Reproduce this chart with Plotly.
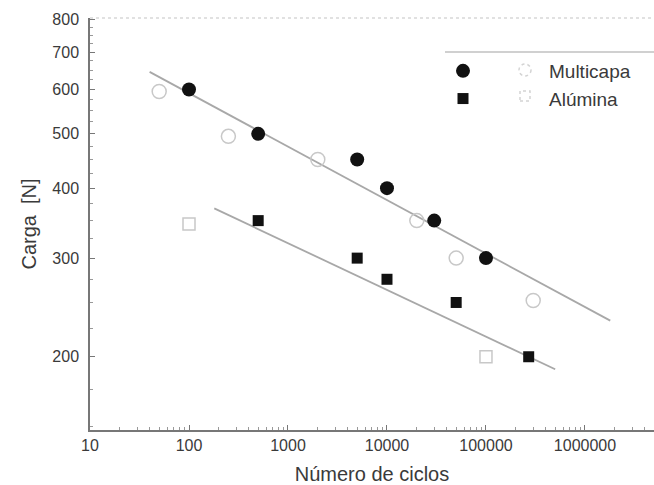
import plotly.graph_objects as go
import math

# Multicapa (filled / open)
multi_x = [100, 500, 5000, 10000, 30000, 100000]
multi_y = [600, 500, 450, 400, 350, 300]
multi_open_x = [50, 250, 2000, 20000, 50000, 300000]
multi_open_y = [595, 495, 450, 350, 300, 252]
multi_fit_x = [40, 1800000]
multi_fit_y = [645, 232]

# Alúmina (filled / open)
alu_x = [500, 5000, 10000, 50000, 270000]
alu_y = [350, 300, 275, 250, 200]
alu_open_x = [100, 100000]
alu_open_y = [345, 200]
alu_fit_x = [180, 500000]
alu_fit_y = [368, 190]

x_ticks = [10, 100, 1000, 10000, 100000, 1000000]
x_tick_labels = ["10", "100", "1000", "10000", "100000", "1000000"]
y_ticks = [200, 300, 400, 500, 600, 700, 800]
y_tick_labels = ["200", "300", "400", "500", "600", "700", "800"]

x_minor = [m * 10 ** e for e in range(1, 7) for m in range(2, 10)]
y_minor = [v for v in range(150, 800, 25) if v % 100 != 0]

FONT = "Liberation Sans, Arial, sans-serif"
GREY_TXT = "#3a3a3a"

fig = go.Figure()

fig.add_trace(go.Scatter(x=multi_fit_x, y=multi_fit_y, mode="lines",
                         line=dict(color="#a8a8a8", width=1.8), showlegend=False, hoverinfo="skip"))
fig.add_trace(go.Scatter(x=alu_fit_x, y=alu_fit_y, mode="lines",
                         line=dict(color="#a8a8a8", width=1.8), showlegend=False, hoverinfo="skip"))

fig.add_trace(go.Scatter(x=multi_open_x, y=multi_open_y, mode="markers",
                         marker=dict(symbol="circle-open", size=14, color="#c8c8c8", line=dict(width=1.5)),
                         showlegend=False))
fig.add_trace(go.Scatter(x=alu_open_x, y=alu_open_y, mode="markers",
                         marker=dict(symbol="square-open", size=12, color="#c8c8c8", line=dict(width=1.5)),
                         showlegend=False))

fig.add_trace(go.Scatter(x=multi_x, y=multi_y, mode="markers", name="Multicapa",
                         marker=dict(symbol="circle", size=14, color="#111111")))
fig.add_trace(go.Scatter(x=alu_x, y=alu_y, mode="markers", name="Alúmina",
                         marker=dict(symbol="square", size=11, color="#111111")))

axis_common = dict(showgrid=False, zeroline=False, showline=True, linecolor="#777777", linewidth=1.5,
                   ticks="inside", ticklen=5, tickcolor="#777777", automargin=False,
                   tickfont=dict(family=FONT, size=16, color=GREY_TXT))

fig.update_xaxes(type="log", range=[1, math.log10(4.98e6)], tickvals=x_ticks, ticktext=x_tick_labels,
                 title=dict(text="Número de ciclos", font=dict(family=FONT, size=20, color=GREY_TXT), standoff=14),
                 minor=dict(tickvals=x_minor, ticks="inside", ticklen=3, tickcolor="#999999"),
                 **axis_common)
fig.update_yaxes(type="log", range=[math.log10(148), math.log10(805)], tickvals=y_ticks, ticktext=y_tick_labels,
                 title=dict(text="Carga  [N]", font=dict(family=FONT, size=20, color=GREY_TXT), standoff=10),
                 minor=dict(tickvals=y_minor, ticks="inside", ticklen=3, tickcolor="#999999"),
                 ticklabelstandoff=6,
                 **axis_common)

fig.add_shape(type="line", xref="paper", yref="paper", x0=0, x1=1, y0=1, y1=1,
              line=dict(color="#d8d8d8", width=1.5, dash="dot"))
fig.add_shape(type="line", xref="paper", yref="paper", x0=(445 - 90) / 564, x1=1, y0=(430 - 52) / 412, y1=(430 - 52) / 412,
              line=dict(color="#d0d0d0", width=2))

# faint open symbols in the legend rows
def px_x(p):
    return (p - 90) / 564

def px_y(p):
    return (430 - p) / 412

fig.add_shape(type="circle", xref="paper", yref="paper",
              x0=px_x(519), x1=px_x(531), y0=px_y(76), y1=px_y(64),
              line=dict(color="#d4d4d4", width=1.5, dash="dot"))
fig.add_shape(type="rect", xref="paper", yref="paper",
              x0=px_x(520), x1=px_x(530), y0=px_y(101), y1=px_y(91),
              line=dict(color="#d4d4d4", width=1.5, dash="dot"))

fig.update_layout(
    width=654, height=485,
    margin=dict(l=90, r=0, t=18, b=55),
    plot_bgcolor="white", paper_bgcolor="white",
    font=dict(family=FONT, color=GREY_TXT),
    legend=dict(x=px_x(377), y=px_y(52), xanchor="left", yanchor="top",
                bgcolor="rgba(0,0,0,0)", itemwidth=162, tracegroupgap=0,
                font=dict(family=FONT, size=19, color=GREY_TXT)),
)

fig.write_html("out.html", config={"displayModeBar": False},
               post_script="document.body.style.margin='0';document.body.style.overflow='hidden';")
